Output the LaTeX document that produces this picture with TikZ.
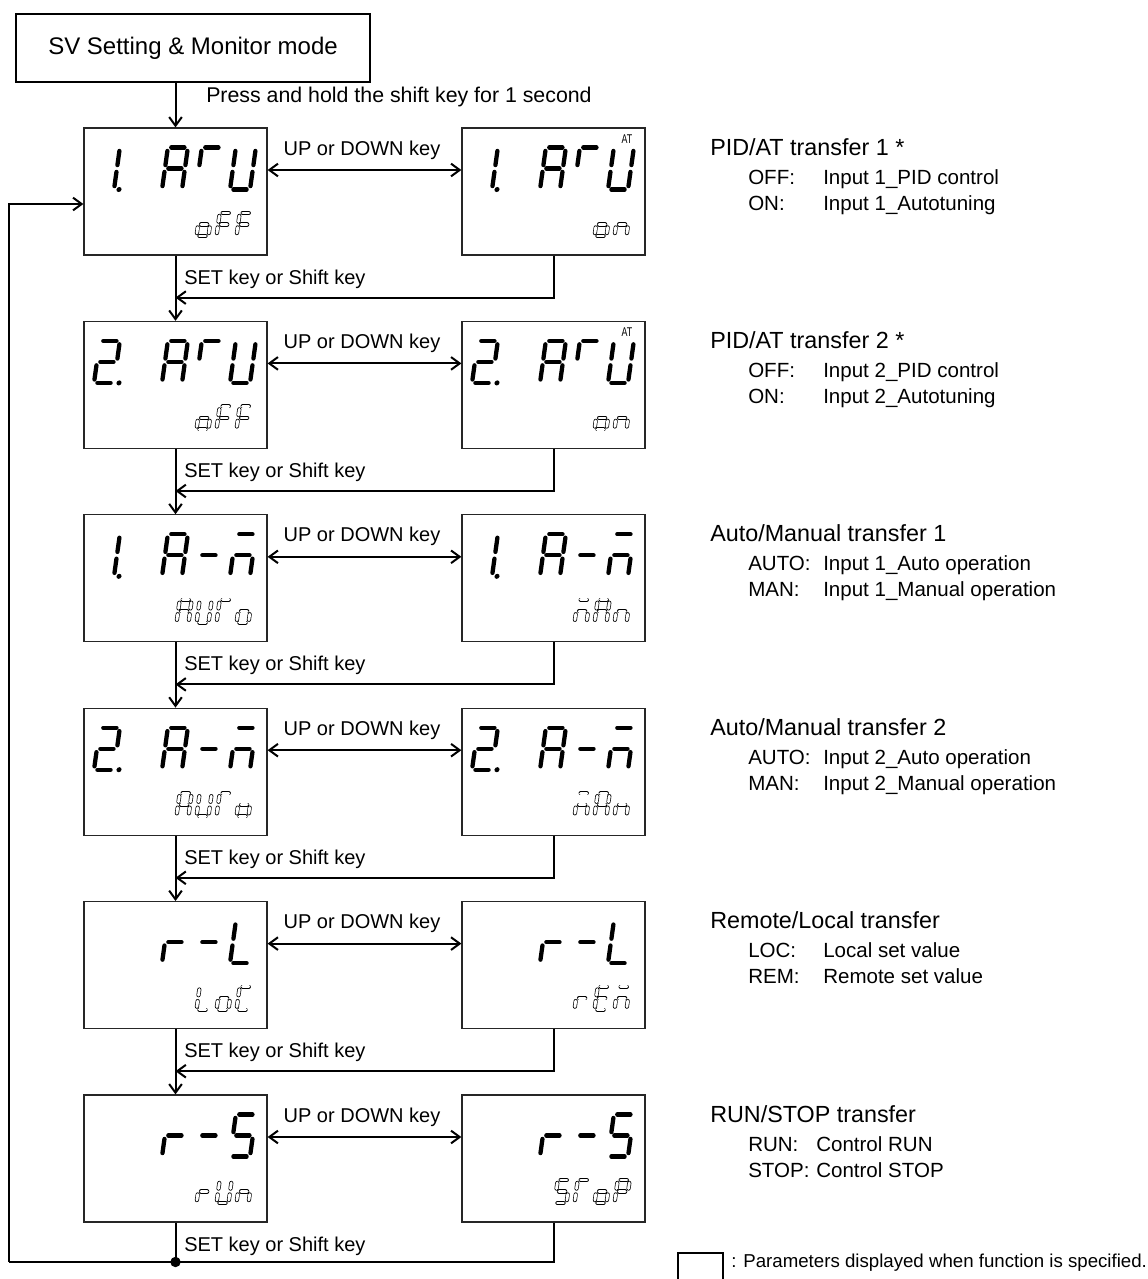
\documentclass[tikz,border=0pt]{standalone}
\usepackage{fontspec}
\setmainfont{Liberation Sans}
\usetikzlibrary{arrows.meta}
% seven-segment helpers
\newcommand\SGline[4]{\draw[curseg] ({#1},{-(#2)}) -- ({#3},{-(#4)});}
\newcommand\SGa{\SGline{\sgG}{\sgH}{\sgW-\sgG}{\sgH}}
\newcommand\SGb{\SGline{\sgW}{\sgH-\sgG}{\sgW}{\sgH/2+\sgG}}
\newcommand\SGc{\SGline{\sgW}{\sgH/2-\sgG}{\sgW}{\sgG}}
\newcommand\SGd{\SGline{\sgG}{0}{\sgW-\sgG}{0}}
\newcommand\SGe{\SGline{0}{\sgG}{0}{\sgH/2-\sgG}}
\newcommand\SGf{\SGline{0}{\sgH/2+\sgG}{0}{\sgH-\sgG}}
\newcommand\SGg{\SGline{\sgG}{\sgH/2}{\sgW-\sgG}{\sgH/2}}
\newcommand\SGp{\fill ({\sgW+5},0) circle[radius=1.9pt];}
\newcommand\BD[4]{\begin{scope}[shift={({#1+10+34*(#3-1)},{#2+61.5})},xslant=0.14]
 \def\sgW{20}\def\sgH{42}\def\sgG{3.4}
 \tikzset{curseg/.style=bigseg}
 \foreach \s in {#4}{\csname SG\s\endcsname}
\end{scope}}
\newcommand\SD[4]{\begin{scope}[shift={({#1+92.5+20*(#3-1)},{#2+108})},xslant=0.14]
 \def\sgW{12}\def\sgH{23}\def\sgG{2.9}
 \tikzset{curseg/.style=smallseg}
 \foreach \s in {#4}{\csname SG\s\endcsname}
\end{scope}}
\begin{document}
\begin{tikzpicture}[x=0.75pt,y=-0.75pt,
  >={Straight Barb[length=6.5pt,width=9.5pt]},
  bigseg/.style={black,line width=3.2pt,line cap=round},
  smallseg/.style={draw=black,line width=0.5pt,double=white,double distance=2.1pt,line cap=round},
  conn/.style={line width=1.5pt,black},
  dbox/.style={draw=black!85,line width=0.9pt,minimum width=137.25pt,minimum height=95.25pt,inner sep=0pt},
  topbox/.style={draw=black,line width=1.4pt,minimum width=265.5pt,minimum height=51pt,inner sep=0pt,font=\fontsize{18}{21}\selectfont},
  lbl/.style={inner sep=0pt,font=\fontsize{15}{18}\selectfont},
  presslbl/.style={inner sep=0pt,anchor=west,font=\fontsize{16}{19}\selectfont},
  head/.style={inner sep=0pt,anchor=base west,font=\fontsize{17.5}{20}\selectfont},
  sub/.style={inner sep=0pt,anchor=base west,font=\fontsize{15.4}{18}\selectfont},
  atlbl/.style={inner sep=0pt,font=\fontsize{9.5}{9.5}\selectfont},
  legbox/.style={draw=black,line width=1.1pt,minimum width=33.75pt,minimum height=27.75pt,inner sep=0pt},
  legtxt/.style={inner sep=0pt,anchor=base west,font=\fontsize{14}{16}\selectfont}]
\useasboundingbox (0,0) rectangle (1148,1279);
\fill[white] (0,0) rectangle (1148,1279);

% top box
\node[topbox] (sv) at (193,48) {SV Setting \& Monitor mode};
\node[presslbl] (press) at (206,97) {Press and hold the shift key for 1 second};

% display boxes and labels
\foreach \i/\T in {1/128,2/321.4,3/514.8,4/708.2,5/901.6,6/1095} {
  \node[dbox] (L\i) at (175.5,\T+63.5) {};
  \node[dbox] (R\i) at (553.5,\T+63.5) {};
  \node[lbl] (ud\i) at (362,\T+22) {UP or DOWN key};
  \draw[conn,<->] ([yshift=16.125pt]L\i.east) -- ([yshift=16.125pt]R\i.west);
  \node[lbl,anchor=west] (sk\i) at (184,\T+151) {SET key or Shift key};
}
% connectors
\draw[conn,->] (sv.south -| L1.north) -- (L1.north);
\foreach \i/\j in {1/2,2/3,3/4,4/5,5/6} {
  \draw[conn,->] (L\i.south) -- (L\j.north);
  \draw[conn,->] (R\i.south) -- ++(0,42) coordinate (k\i) -- (k\i -| L\i.south);
}
\coordinate (dot) at (175.5,1262);
\coordinate (lb) at (9,1262);
\coordinate (lt) at (9,204);
\draw[conn] (L6.south) -- (dot);
\draw[conn] (R6.south) |- (lb);
\draw[conn,->] (lb) -- (lt) -- (lt -| L1.west);
\fill (dot) circle[radius=3.9pt];

% ---- display contents ----
% row 1
\BD{84}{128}{1}{b,c,p}\BD{84}{128}{3}{a,b,c,e,f,g}\BD{84}{128}{4}{a,f}\BD{84}{128}{5}{b,c,d,e,f}
\SD{84}{128}{2}{c,d,e,g}\SD{84}{128}{3}{a,e,f,g}\SD{84}{128}{4}{a,e,f,g}
\BD{462}{128}{1}{b,c,p}\BD{462}{128}{3}{a,b,c,e,f,g}\BD{462}{128}{4}{a,f}\BD{462}{128}{5}{b,c,d,e,f}
\SD{462}{128}{3}{c,d,e,g}\SD{462}{128}{4}{c,e,g}
\node[atlbl] (at1) at (627,139) {\scalebox{0.7}[1]{AT}};
% row 2
\BD{84}{321.4}{1}{a,b,g,e,d,p}\BD{84}{321.4}{3}{a,b,c,e,f,g}\BD{84}{321.4}{4}{a,f}\BD{84}{321.4}{5}{b,c,d,e,f}
\SD{84}{321.4}{2}{c,d,e,g}\SD{84}{321.4}{3}{a,e,f,g}\SD{84}{321.4}{4}{a,e,f,g}
\BD{462}{321.4}{1}{a,b,g,e,d,p}\BD{462}{321.4}{3}{a,b,c,e,f,g}\BD{462}{321.4}{4}{a,f}\BD{462}{321.4}{5}{b,c,d,e,f}
\SD{462}{321.4}{3}{c,d,e,g}\SD{462}{321.4}{4}{c,e,g}
\node[atlbl] (at2) at (627,332.4) {\scalebox{0.7}[1]{AT}};
% row 3
\BD{84}{514.8}{1}{b,c,p}\BD{84}{514.8}{3}{a,b,c,e,f,g}\BD{84}{514.8}{4}{g}\BD{84}{514.8}{5}{a,c,e,g}
\SD{84}{514.8}{1}{a,b,c,e,f,g}\SD{84}{514.8}{2}{b,c,d,e,f}\SD{84}{514.8}{3}{a,e,f}\SD{84}{514.8}{4}{c,d,e,g}
\BD{462}{514.8}{1}{b,c,p}\BD{462}{514.8}{3}{a,b,c,e,f,g}\BD{462}{514.8}{4}{g}\BD{462}{514.8}{5}{a,c,e,g}
\SD{462}{514.8}{2}{a,c,e,g}\SD{462}{514.8}{3}{a,b,c,e,f,g}\SD{462}{514.8}{4}{c,e,g}
% row 4
\BD{84}{708.2}{1}{a,b,g,e,d,p}\BD{84}{708.2}{3}{a,b,c,e,f,g}\BD{84}{708.2}{4}{g}\BD{84}{708.2}{5}{a,c,e,g}
\SD{84}{708.2}{1}{a,b,c,e,f,g}\SD{84}{708.2}{2}{b,c,d,e,f}\SD{84}{708.2}{3}{a,e,f}\SD{84}{708.2}{4}{c,d,e,g}
\BD{462}{708.2}{1}{a,b,g,e,d,p}\BD{462}{708.2}{3}{a,b,c,e,f,g}\BD{462}{708.2}{4}{g}\BD{462}{708.2}{5}{a,c,e,g}
\SD{462}{708.2}{2}{a,c,e,g}\SD{462}{708.2}{3}{a,b,c,e,f,g}\SD{462}{708.2}{4}{c,e,g}
% row 5
\BD{84}{901.6}{3}{e,g}\BD{84}{901.6}{4}{g}\BD{84}{901.6}{5}{d,e,f}
\SD{84}{901.6}{2}{d,e,f}\SD{84}{901.6}{3}{c,d,e,g}\SD{84}{901.6}{4}{a,d,e,f}
\BD{462}{901.6}{3}{e,g}\BD{462}{901.6}{4}{g}\BD{462}{901.6}{5}{d,e,f}
\SD{462}{901.6}{2}{e,g}\SD{462}{901.6}{3}{a,d,e,f,g}\SD{462}{901.6}{4}{a,c,e,g}
% row 6
\BD{84}{1095}{3}{e,g}\BD{84}{1095}{4}{g}\BD{84}{1095}{5}{a,c,d,f,g}
\SD{84}{1095}{2}{e,g}\SD{84}{1095}{3}{b,c,d,e,f}\SD{84}{1095}{4}{c,e,g}
\BD{462}{1095}{3}{e,g}\BD{462}{1095}{4}{g}\BD{462}{1095}{5}{a,c,d,f,g}
\SD{462}{1095}{1}{a,c,d,f,g}\SD{462}{1095}{2}{a,e,f}\SD{462}{1095}{3}{c,d,e,g}\SD{462}{1095}{4}{a,b,e,f,g}

% ---- right-hand descriptions ----
\node[head] (h1) at (710,155) {PID/AT transfer 1 *};
\node[sub] (k1a) at (748,184) {OFF:};  \node[sub] (v1a) at (823,184) {Input 1\_PID control};
\node[sub] (k1b) at (748,210) {ON:};   \node[sub] (v1b) at (823,210) {Input 1\_Autotuning};
\node[head] (h2) at (710,348.4) {PID/AT transfer 2 *};
\node[sub] (k2a) at (748,377.4) {OFF:};  \node[sub] (v2a) at (823,377.4) {Input 2\_PID control};
\node[sub] (k2b) at (748,403.4) {ON:};   \node[sub] (v2b) at (823,403.4) {Input 2\_Autotuning};
\node[head] (h3) at (710,541.8) {Auto/Manual transfer 1};
\node[sub] (k3a) at (748,570.8) {AUTO:}; \node[sub] (v3a) at (823,570.8) {Input 1\_Auto operation};
\node[sub] (k3b) at (748,596.8) {MAN:};  \node[sub] (v3b) at (823,596.8) {Input 1\_Manual operation};
\node[head] (h4) at (710,735.2) {Auto/Manual transfer 2};
\node[sub] (k4a) at (748,764.2) {AUTO:}; \node[sub] (v4a) at (823,764.2) {Input 2\_Auto operation};
\node[sub] (k4b) at (748,790.2) {MAN:};  \node[sub] (v4b) at (823,790.2) {Input 2\_Manual operation};
\node[head] (h5) at (710,928.6) {Remote/Local transfer};
\node[sub] (k5a) at (748,957.6) {LOC:};  \node[sub] (v5a) at (823,957.6) {Local set value};
\node[sub] (k5b) at (748,983.6) {REM:};  \node[sub] (v5b) at (823,983.6) {Remote set value};
\node[head] (h6) at (710,1122) {RUN/STOP transfer};
\node[sub] (k6a) at (748,1151) {RUN:};   \node[sub] (v6a) at (816,1151) {Control RUN};
\node[sub] (k6b) at (748,1177) {STOP:};  \node[sub] (v6b) at (816,1177) {Control STOP};

% legend
\node[legbox] (lg) at (700.5,1271.5) {};
\node[legtxt] (lgt) at (731,1267) {: Parameters displayed when function is specified.};
\end{tikzpicture}
\end{document}
